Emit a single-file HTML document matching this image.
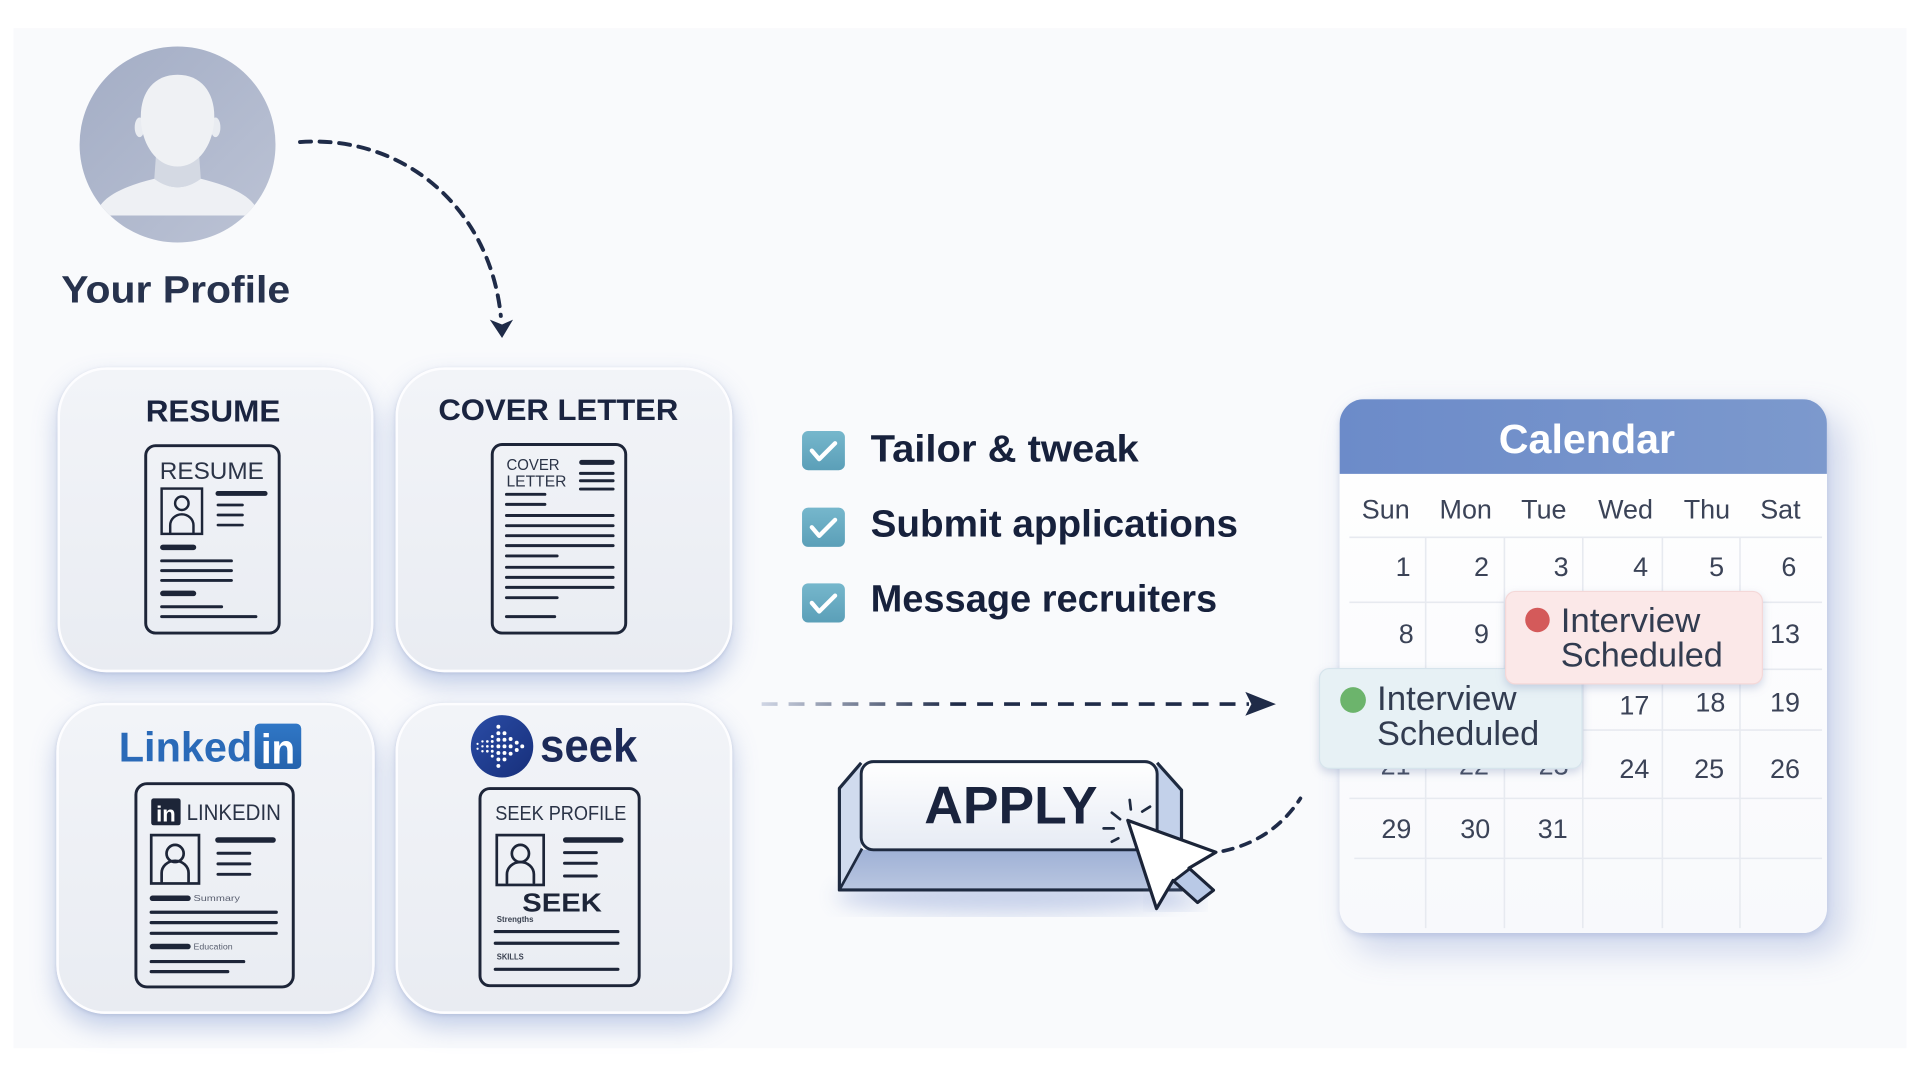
<!DOCTYPE html>
<html><head><meta charset="utf-8"><style>
html,body{margin:0;padding:0;background:#fff;}
body{width:1920px;height:1080px;overflow:hidden;position:relative;font-family:"Liberation Sans",sans-serif;}
#root{position:absolute;left:0;top:0;width:1568px;height:882px;transform:scale(1.22449);transform-origin:0 0;}
.bg{position:absolute;left:10.6px;top:22.9px;width:1546.8px;height:833px;background:#f9fafc;}
.card{position:absolute;border-radius:40px;background:linear-gradient(180deg,#f2f4f8,#e9ecf2);border:2px solid #fdfdff;box-sizing:border-box;box-shadow:0 10px 20px rgba(120,145,205,0.42),0 1px 3px rgba(140,150,180,.3);}
.cal{position:absolute;left:1093.6px;top:326px;width:398.4px;height:436px;border-radius:20px;background:linear-gradient(180deg,#ffffff,#f8f9fc);box-shadow:12px 14px 28px rgba(110,135,200,0.32),0 2px 5px rgba(120,140,190,.25);overflow:hidden;}
.calh{position:absolute;left:0;top:0;width:100%;height:60.5px;background:linear-gradient(90deg,#6c8bc9,#7c99cd);}
svg{position:absolute;left:0;top:0;}
</style></head><body>
<div id="root">
<div class="bg"></div>
<div class="card" style="left:47px;top:300px;width:258px;height:249px;"></div>
<div class="card" style="left:323px;top:300px;width:275px;height:249px;"></div>
<div class="card" style="left:46px;top:574px;width:260px;height:254px;"></div>
<div class="card" style="left:323px;top:574px;width:275px;height:254px;"></div>
<div class="cal"><div class="calh"></div></div>

<svg width="1568" height="882" viewBox="0 0 1568 882" font-family="Liberation Sans, sans-serif">
<defs>
  <clipPath id="avc"><circle cx="145" cy="118" r="80"/></clipPath>
  <linearGradient id="avg" x1="0" y1="0" x2="1" y2="1"><stop offset="0" stop-color="#a3adc5"/><stop offset="1" stop-color="#bcc3d5"/></linearGradient>
  <linearGradient id="chk" x1="0" y1="0" x2="0" y2="1"><stop offset="0" stop-color="#76b7cc"/><stop offset="1" stop-color="#5b9fb8"/></linearGradient>
  <linearGradient id="hdash" gradientUnits="userSpaceOnUse" x1="622" y1="0" x2="780" y2="0"><stop offset="0" stop-color="#cfd5e4"/><stop offset="1" stop-color="#1f2b48"/></linearGradient>
  <linearGradient id="face" x1="0" y1="0" x2="0" y2="1"><stop offset="0" stop-color="#ffffff"/><stop offset="1" stop-color="#e6ebf4"/></linearGradient>
  <linearGradient id="bot" x1="0" y1="0" x2="0" y2="1"><stop offset="0" stop-color="#9fb1d6"/><stop offset="1" stop-color="#b9c6e0"/></linearGradient>
  <linearGradient id="seekg" x1="0" y1="0" x2="1" y2="1"><stop offset="0" stop-color="#2a4ca6"/><stop offset="1" stop-color="#172f7a"/></linearGradient>
  <linearGradient id="lig" x1="0" y1="0" x2="0" y2="1"><stop offset="0" stop-color="#3077c6"/><stop offset="1" stop-color="#2563ad"/></linearGradient>
  <filter id="ps" x="-20%" y="-30%" width="140%" height="170%"><feDropShadow dx="0" dy="3" stdDeviation="3.5" flood-color="#8090b8" flood-opacity="0.35"/></filter>
  <filter id="blur8"><feGaussianBlur stdDeviation="8"/></filter>
</defs>

<!-- Avatar -->
<circle cx="145" cy="118" r="80" fill="url(#avg)"/>
<g clip-path="url(#avc)">
  <path d="M128,118 L162,118 L164,146 Q145,160 126,146 Z" fill="#d4d9e3"/>
  <path d="M78,176 C82,160 102,152 126,146 Q145,160 164,146 C188,152 208,160 212,176 Z" fill="#eef0f4"/>
  <ellipse cx="114" cy="104" rx="4" ry="8" fill="#e9ecf1"/>
  <ellipse cx="176" cy="104" rx="4" ry="8" fill="#e9ecf1"/>
  <path d="M145,61 C164,61 175,75 175,95 C175,118 162,136 145,136 C128,136 115,118 115,95 C115,75 126,61 145,61 Z" fill="#eff1f4"/>
</g>
<text x="50" y="247" font-size="31" font-weight="700" fill="#27324d" textLength="187" lengthAdjust="spacingAndGlyphs">Your Profile</text>

<!-- Curved dashed arrow -->
<path d="M245,116 C330,110 400,170 409,258" fill="none" stroke="#1f2b48" stroke-width="3.2" stroke-dasharray="9 7" stroke-linecap="round"/>
<polygon points="400,261 410,276 419,261 410,265" fill="#1f2b48"/>

<!-- Card titles -->
<text x="174" y="344.4" text-anchor="middle" font-size="25" font-weight="700" fill="#1a2440" textLength="110" lengthAdjust="spacingAndGlyphs">RESUME</text>
<text x="456" y="343" text-anchor="middle" font-size="24" font-weight="700" fill="#1a2440" textLength="196" lengthAdjust="spacingAndGlyphs">COVER LETTER</text>

<g stroke="#1d2538" fill="none" stroke-linecap="round">
<!-- Resume doc -->
<rect x="119" y="364" width="109" height="153" rx="8" stroke-width="2.4"/>
<rect x="132" y="399" width="33" height="37" stroke-width="2"/>
<circle cx="148.5" cy="411" r="5.5" stroke-width="2"/>
<path d="M139,435 v-6 a9.5,9 0 0 1 19,0 v6" stroke-width="2"/>
<line x1="178" y1="403" x2="216.5" y2="403" stroke-width="4"/>
<line x1="178" y1="412.4" x2="198" y2="412.4" stroke-width="2.2"/>
<line x1="178" y1="420.6" x2="198" y2="420.6" stroke-width="2.2"/>
<line x1="178" y1="428.8" x2="198" y2="428.8" stroke-width="2.2"/>
<line x1="133" y1="447" x2="158" y2="447" stroke-width="4.5"/>
<line x1="132" y1="458" x2="189" y2="458" stroke-width="2.4"/>
<line x1="132" y1="466" x2="189" y2="466" stroke-width="2.4"/>
<line x1="132" y1="474" x2="189" y2="474" stroke-width="2.4"/>
<line x1="133" y1="484.6" x2="158" y2="484.6" stroke-width="4.5"/>
<line x1="132" y1="495.5" x2="181" y2="495.5" stroke-width="2.4"/>
<line x1="132" y1="503.6" x2="209" y2="503.6" stroke-width="2.4"/>

<!-- Cover letter doc -->
<rect x="402" y="363" width="109" height="154" rx="8" stroke-width="2.4"/>
<line x1="475" y1="377.6" x2="500" y2="377.6" stroke-width="4"/>
<line x1="474" y1="386.6" x2="500.7" y2="386.6" stroke-width="2.4"/>
<line x1="474" y1="392.6" x2="500.7" y2="392.6" stroke-width="2.4"/>
<line x1="474" y1="399.4" x2="500.7" y2="399.4" stroke-width="2.4"/>
<line x1="413.6" y1="403.7" x2="445" y2="403.7" stroke-width="2.4"/>
<line x1="413.6" y1="411.9" x2="445" y2="411.9" stroke-width="2.4"/>
<line x1="413.6" y1="421" x2="500.7" y2="421" stroke-width="2.4"/>
<line x1="413.6" y1="429.3" x2="500.7" y2="429.3" stroke-width="2.4"/>
<line x1="413.6" y1="437.5" x2="500.7" y2="437.5" stroke-width="2.4"/>
<line x1="413.6" y1="445.6" x2="500.7" y2="445.6" stroke-width="2.4"/>
<line x1="413.6" y1="454" x2="455" y2="454" stroke-width="2.4"/>
<line x1="413.6" y1="463.3" x2="500.7" y2="463.3" stroke-width="2.4"/>
<line x1="413.6" y1="471.5" x2="500.7" y2="471.5" stroke-width="2.4"/>
<line x1="413.6" y1="479.7" x2="500.7" y2="479.7" stroke-width="2.4"/>
<line x1="413.6" y1="488.1" x2="455" y2="488.1" stroke-width="2.4"/>
<line x1="413.6" y1="503.6" x2="453" y2="503.6" stroke-width="2.4"/>

<!-- LinkedIn doc -->
<rect x="111" y="640" width="128.5" height="166" rx="9" stroke-width="2.4"/>
<rect x="123.5" y="682" width="39" height="39.5" stroke-width="2.2"/>
<circle cx="143" cy="697" r="7" stroke-width="2.2"/>
<path d="M132,720 v-7 a11,10 0 0 1 22,0 v7" stroke-width="2.2"/>
<line x1="178" y1="686" x2="223" y2="686" stroke-width="4.5"/>
<line x1="178" y1="696.8" x2="204" y2="696.8" stroke-width="2.4"/>
<line x1="178" y1="705.5" x2="204" y2="705.5" stroke-width="2.4"/>
<line x1="178" y1="714" x2="204" y2="714" stroke-width="2.4"/>
<line x1="124.5" y1="733.6" x2="153.5" y2="733.6" stroke-width="4.5"/>
<line x1="123.5" y1="745" x2="225.6" y2="745" stroke-width="2.6"/>
<line x1="123.5" y1="753.5" x2="225.6" y2="753.5" stroke-width="2.6"/>
<line x1="123.5" y1="762.2" x2="225.6" y2="762.2" stroke-width="2.6"/>
<line x1="124.5" y1="773" x2="153.5" y2="773" stroke-width="4.5"/>
<line x1="123.5" y1="785.3" x2="199" y2="785.3" stroke-width="2.6"/>
<line x1="123.5" y1="793.5" x2="186" y2="793.5" stroke-width="2.6"/>

<!-- Seek doc -->
<rect x="392" y="644" width="130" height="161" rx="8" stroke-width="2.4"/>
<rect x="405.7" y="682" width="38.3" height="40.7" stroke-width="2.2"/>
<circle cx="425" cy="697" r="7" stroke-width="2.2"/>
<path d="M414,721 v-7 a11,10 0 0 1 22,0 v7" stroke-width="2.2"/>
<line x1="462" y1="686" x2="507" y2="686" stroke-width="4.5"/>
<line x1="461" y1="696.3" x2="487" y2="696.3" stroke-width="2.4"/>
<line x1="461" y1="705" x2="487" y2="705" stroke-width="2.4"/>
<line x1="461" y1="715.4" x2="487" y2="715.4" stroke-width="2.4"/>
<line x1="404.5" y1="760.8" x2="504.6" y2="760.8" stroke-width="2.6"/>
<line x1="404.5" y1="770.3" x2="504.6" y2="770.3" stroke-width="2.6"/>
<line x1="404.5" y1="791.6" x2="504.6" y2="791.6" stroke-width="2.6"/>
</g>

<!-- doc texts -->
<text x="173" y="391" text-anchor="middle" font-size="20" fill="#2b3447" textLength="85" lengthAdjust="spacingAndGlyphs">RESUME</text>
<text x="413.6" y="384" font-size="13" fill="#2b3447" textLength="43.4" lengthAdjust="spacingAndGlyphs">COVER</text>
<text x="413.6" y="397.5" font-size="13" fill="#2b3447" textLength="49" lengthAdjust="spacingAndGlyphs">LETTER</text>
<rect x="123.5" y="652" width="24" height="22" rx="2" fill="#1d2538"/>
<text x="135.5" y="671" text-anchor="middle" font-size="18" font-weight="700" fill="#ffffff">in</text>
<text x="152.4" y="669.6" font-size="18" fill="#2a3346" textLength="77" lengthAdjust="spacingAndGlyphs">LINKEDIN</text>
<text x="158" y="736" font-size="7" fill="#5a6070" textLength="38" lengthAdjust="spacingAndGlyphs">Summary</text>
<text x="158" y="775.5" font-size="7" fill="#5a6070" textLength="32" lengthAdjust="spacingAndGlyphs">Education</text>
<text x="404.5" y="669.6" font-size="16.5" fill="#2a3346" textLength="107" lengthAdjust="spacingAndGlyphs">SEEK PROFILE</text>
<text x="459" y="744.5" text-anchor="middle" font-size="21" font-weight="700" fill="#1d2538" textLength="65" lengthAdjust="spacingAndGlyphs">SEEK</text>
<text x="405.7" y="753" font-size="7" font-weight="700" fill="#3a4150" textLength="30" lengthAdjust="spacingAndGlyphs">Strengths</text>
<text x="405.7" y="783.5" font-size="7" font-weight="700" fill="#3a4150" textLength="22" lengthAdjust="spacingAndGlyphs">SKILLS</text>

<!-- LinkedIn logo -->
<text x="97" y="622" font-size="34" font-weight="700" fill="#2a6ab8" textLength="109" lengthAdjust="spacingAndGlyphs">Linked</text>
<rect x="208" y="591" width="38" height="37" rx="4" fill="url(#lig)"/>
<text x="227" y="623.5" text-anchor="middle" font-size="34" font-weight="700" fill="#ffffff" textLength="28" lengthAdjust="spacingAndGlyphs">in</text>

<!-- Seek logo -->
<circle cx="410" cy="609.5" r="25.5" fill="url(#seekg)"/>
<g fill="#ffffff">
  <circle cx="390" cy="607.5" r="0.9"/><circle cx="390" cy="611.5" r="0.9"/>
  <circle cx="394" cy="605.5" r="1"/><circle cx="394" cy="609.5" r="1"/><circle cx="394" cy="613.5" r="1"/>
  <circle cx="398" cy="605.5" r="1.1"/><circle cx="398" cy="609.5" r="1.1"/><circle cx="398" cy="613.5" r="1.1"/>
  <circle cx="402" cy="601.5" r="1.2"/><circle cx="402" cy="605.5" r="1.2"/><circle cx="402" cy="609.5" r="1.2"/><circle cx="402" cy="613.5" r="1.2"/><circle cx="402" cy="617.5" r="1.2"/>
  <circle cx="407" cy="593.5" r="1.6"/><circle cx="407" cy="598.8" r="1.6"/><circle cx="407" cy="604.1" r="1.6"/><circle cx="407" cy="609.5" r="1.6"/><circle cx="407" cy="614.9" r="1.6"/><circle cx="407" cy="620.2" r="1.6"/><circle cx="407" cy="625.5" r="1.6"/>
  <circle cx="412" cy="598.8" r="1.6"/><circle cx="412" cy="604.1" r="1.6"/><circle cx="412" cy="609.5" r="1.6"/><circle cx="412" cy="614.9" r="1.6"/><circle cx="412" cy="620.2" r="1.6"/>
  <circle cx="417" cy="603.5" r="1.6"/><circle cx="417" cy="609.5" r="1.6"/><circle cx="417" cy="615.5" r="1.6"/>
  <circle cx="422" cy="606.5" r="1.6"/><circle cx="422" cy="612.5" r="1.6"/>
  <circle cx="426.5" cy="609.5" r="1.6"/>
</g>
<text x="441" y="622" font-size="38" font-weight="700" fill="#1c2a58" textLength="79.5" lengthAdjust="spacingAndGlyphs">seek</text>

<!-- Checklist -->
<g>
  <rect x="655" y="352" width="35" height="32" rx="5" fill="url(#chk)"/>
  <path d="M663,368 l6,7 l13,-13" fill="none" stroke="#fff" stroke-width="3.5" stroke-linecap="round" stroke-linejoin="round"/>
  <rect x="655" y="414.6" width="35" height="32" rx="5" fill="url(#chk)"/>
  <path d="M663,430.6 l6,7 l13,-13" fill="none" stroke="#fff" stroke-width="3.5" stroke-linecap="round" stroke-linejoin="round"/>
  <rect x="655" y="476.4" width="35" height="32" rx="5" fill="url(#chk)"/>
  <path d="M663,492.4 l6,7 l13,-13" fill="none" stroke="#fff" stroke-width="3.5" stroke-linecap="round" stroke-linejoin="round"/>
</g>
<text x="711" y="377" font-size="31" font-weight="700" fill="#17213c" textLength="219" lengthAdjust="spacingAndGlyphs">Tailor &amp; tweak</text>
<text x="711" y="438.3" font-size="31" font-weight="700" fill="#17213c" textLength="300" lengthAdjust="spacingAndGlyphs">Submit applications</text>
<text x="711" y="499.5" font-size="31" font-weight="700" fill="#17213c" textLength="283" lengthAdjust="spacingAndGlyphs">Message recruiters</text>

<!-- Horizontal dashed arrow -->
<line x1="622" y1="575" x2="1020" y2="575" stroke="url(#hdash)" stroke-width="3" stroke-dasharray="13 9"/>
<polygon points="1017,565 1042,575 1017,584.5 1022,575" fill="#1f2b48"/>

<!-- APPLY button -->
<ellipse cx="822" cy="732" rx="140" ry="14" fill="#8ea3d6" opacity="0.45" filter="url(#blur8)"/>
<polygon points="685.5,726.8 964.9,726.8 945,694 703.3,694" fill="url(#bot)"/>
<polygon points="685.5,643.8 703.3,622 703.3,694 685.5,726.8" fill="#d0dbee"/>
<polygon points="945,622 964.9,645.2 964.9,726.8 945,694" fill="#c3d1ea"/>
<rect x="703.3" y="622" width="241.7" height="72" rx="10" fill="url(#face)" stroke="#1e2a40" stroke-width="2.4"/>
<path d="M703.3,623 L685.5,643.8 L685.5,726.8 L964.9,726.8 L964.9,645.2 L945,623" fill="none" stroke="#1e2a40" stroke-width="2.6" stroke-linejoin="round"/>
<line x1="704" y1="693" x2="685.5" y2="726.8" stroke="#1e2a40" stroke-width="2.2"/>
<line x1="944.5" y1="693" x2="964.9" y2="726.8" stroke="#1e2a40" stroke-width="2.2"/>
<text x="825.6" y="672.4" text-anchor="middle" font-size="43" font-weight="700" fill="#19233d" textLength="141.5" lengthAdjust="spacingAndGlyphs">APPLY</text>
<g stroke="#1e2a40" stroke-width="2.2" stroke-linecap="round">
  <line x1="922.6" y1="653.3" x2="923.5" y2="661"/>
  <line x1="932.8" y1="662.8" x2="939.2" y2="658.8"/>
  <line x1="901.3" y1="676.5" x2="909.5" y2="676.5"/>
  <line x1="908" y1="687.4" x2="913.3" y2="684.6"/>
  <line x1="908" y1="663.7" x2="914.7" y2="669"/>
</g>
<ellipse cx="960" cy="735" rx="22" ry="8" fill="#8ea3d6" opacity="0.35" filter="url(#blur8)"/>
<polygon points="921,670 944.5,742 958,719 978,737 991,727 971,709 993,696" fill="#ffffff" stroke="#1b2438" stroke-width="2.6" stroke-linejoin="round"/>
<polygon points="958.5,719.5 978,737 991,727 971.5,709.5" fill="#b9c9e6" stroke="#1b2438" stroke-width="2.4" stroke-linejoin="round"/>
<path d="M999,695 Q1040,686 1062,652" fill="none" stroke="#1f2b48" stroke-width="3" stroke-dasharray="8 7" stroke-linecap="round"/>

<!-- Calendar -->
<text x="1296" y="370" text-anchor="middle" font-size="33" font-weight="700" fill="#ffffff" textLength="144" lengthAdjust="spacingAndGlyphs">Calendar</text>
<g font-size="22" fill="#3b4357" text-anchor="middle">
  <text x="1131.7" y="423.3">Sun</text>
  <text x="1197" y="423.3">Mon</text>
  <text x="1260.8" y="423.3">Tue</text>
  <text x="1327.5" y="423.3">Wed</text>
  <text x="1394" y="423.3">Thu</text>
  <text x="1454" y="423.3">Sat</text>
</g>
<g stroke="#e7eaf0" stroke-width="1.3">
  <line x1="1102" y1="438.8" x2="1488" y2="438.8"/>
  <line x1="1102" y1="491.9" x2="1488" y2="491.9"/>
  <line x1="1102" y1="546.6" x2="1488" y2="546.6"/>
  <line x1="1102" y1="596.2" x2="1488" y2="596.2"/>
  <line x1="1102" y1="652" x2="1488" y2="652"/>
  <line x1="1106" y1="701" x2="1488" y2="701"/>
  <line x1="1164.3" y1="439" x2="1164.3" y2="758"/>
  <line x1="1228.6" y1="439" x2="1228.6" y2="758"/>
  <line x1="1292.6" y1="439" x2="1292.6" y2="758"/>
  <line x1="1357.6" y1="439" x2="1357.6" y2="758"/>
  <line x1="1421" y1="439" x2="1421" y2="758"/>
</g>
<g font-size="22" fill="#3b4357" text-anchor="end">
  <text x="1152" y="470.5">1</text><text x="1216" y="470.5">2</text><text x="1281" y="470.5">3</text><text x="1346" y="470.5">4</text><text x="1408" y="470.5">5</text><text x="1467" y="470.5">6</text>
  <text x="1154.6" y="525">8</text><text x="1216" y="525">9</text><text x="1281" y="525">10</text><text x="1346" y="525">11</text><text x="1408" y="525">12</text><text x="1470" y="525">13</text>
  <text x="1152" y="583">15</text><text x="1216" y="583">16</text><text x="1347" y="583.5">17</text><text x="1409" y="581">18</text><text x="1470" y="581">19</text>
  <text x="1152" y="632.5">21</text><text x="1216" y="632.5">22</text><text x="1281" y="632.5">23</text><text x="1347" y="635.5">24</text><text x="1408" y="635.5">25</text><text x="1470" y="635.5">26</text>
  <text x="1152.6" y="684.5">29</text><text x="1217" y="684.5">30</text><text x="1280.3" y="684.5">31</text>
</g>

<!-- Popups -->
<g filter="url(#ps)">
  <rect x="1077.6" y="546" width="214.4" height="81.5" rx="8" fill="#e7f1f5" stroke="#d6e4ec" stroke-width="1"/>
</g>
<circle cx="1105" cy="571.7" r="10.5" fill="#6cb46c"/>
<text x="1124.6" y="580" font-size="28" fill="#323c50" textLength="114" lengthAdjust="spacingAndGlyphs">Interview</text>
<text x="1124.6" y="608.5" font-size="28" fill="#323c50" textLength="132.4" lengthAdjust="spacingAndGlyphs">Scheduled</text>

<g filter="url(#ps)">
  <rect x="1229.6" y="483" width="209.7" height="75.5" rx="8" fill="#fbe8e8" stroke="#f4d8d8" stroke-width="1"/>
</g>
<circle cx="1255.6" cy="506.3" r="10" fill="#d45a5a"/>
<text x="1274.6" y="516" font-size="28" fill="#323c50" textLength="114" lengthAdjust="spacingAndGlyphs">Interview</text>
<text x="1274.6" y="544.4" font-size="28" fill="#323c50" textLength="132.4" lengthAdjust="spacingAndGlyphs">Scheduled</text>
</svg>
</div>
</body></html>
